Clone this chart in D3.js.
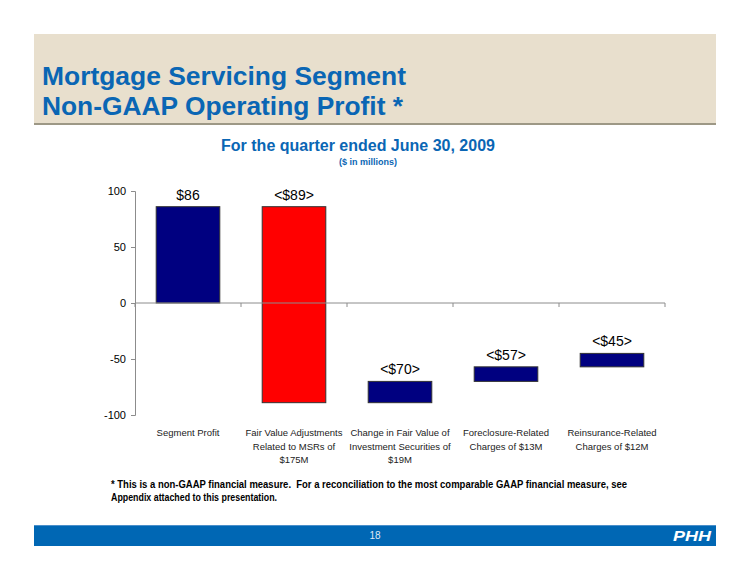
<!DOCTYPE html>
<html>
<head>
<meta charset="utf-8">
<script src="https://cdn.jsdelivr.net/npm/d3@7"></script>
<style>
html,body{margin:0;padding:0;background:#fff;}
svg{display:block;font-family:Arial,"Liberation Sans",sans-serif;}
</style>
</head>
<body>
<svg id="chart" width="750" height="579"></svg>
<script>
// ---- data ----
const categories = [
  ["Segment Profit"],
  ["Fair Value Adjustments", "Related to MSRs of", "$175M"],
  ["Change in Fair Value of", "Investment Securities of", "$19M"],
  ["Foreclosure-Related", "Charges of $13M"],
  ["Reinsurance-Related", "Charges of $12M"]
];
const changes = [86, -175, 19, 13, 12];
const valueLabels = ["$86", "<$89>", "<$70>", "<$57>", "<$45>"];
const barColors = ["#000080", "#ff0000", "#000080", "#000080", "#000080"];
const yTicks = [100, 50, 0, -50, -100];

const svg = d3.select("#chart");

// ---- header ----
svg.append("rect").attr("x", 34).attr("y", 34).attr("width", 682).attr("height", 90).attr("fill", "#e8dfcd");
svg.append("rect").attr("x", 34).attr("y", 123).attr("width", 682).attr("height", 2).attr("fill", "#9d9886");
svg.append("text").attr("x", 42).attr("y", 85).attr("fill", "#0a66b4")
  .attr("font-size", 25).attr("font-weight", "bold")
  .attr("textLength", 364).attr("lengthAdjust", "spacingAndGlyphs")
  .text("Mortgage Servicing Segment");
svg.append("text").attr("x", 42).attr("y", 115).attr("fill", "#0a66b4")
  .attr("font-size", 25).attr("font-weight", "bold")
  .attr("textLength", 361).attr("lengthAdjust", "spacingAndGlyphs")
  .text("Non-GAAP Operating Profit *");

// ---- subtitle ----
svg.append("text").attr("x", 358).attr("y", 151).attr("text-anchor", "middle")
  .attr("fill", "#0a66b4").attr("font-size", 16).attr("font-weight", "bold")
  .text("For the quarter ended June 30, 2009");
svg.append("text").attr("x", 368).attr("y", 165).attr("text-anchor", "middle")
  .attr("fill", "#0a66b4").attr("font-size", 9).attr("font-weight", "bold")
  .text("($ in millions)");

// ---- chart ----
const x = d3.scaleBand().domain(d3.range(categories.length)).range([135, 665])
  .paddingInner(0.4).paddingOuter(0.2);
const y = d3.scaleLinear().domain([-100, 100]).range([415, 191]);

// waterfall spans
let run = 0;
const bars = changes.map((c, i) => {
  const start = i === 0 ? 0 : run;
  const end = start + c;
  run = end;
  return {i, start, end, label: valueLabels[i], color: barColors[i]};
});

// y axis
const yAxis = d3.axisLeft(y).tickValues(yTicks).tickSize(4).tickPadding(5).tickFormat(d => String(d));
const gy = svg.append("g").attr("transform", "translate(135,0)").call(yAxis);
gy.select(".domain").attr("stroke", "#8c8c8c");
gy.selectAll(".tick line").attr("stroke", "#8c8c8c");
gy.selectAll(".tick text").attr("font-size", 11).attr("fill", "#000").attr("font-family", "Arial, 'Liberation Sans', sans-serif");

// bars
svg.selectAll("rect.bar").data(bars).enter().append("rect").attr("class", "bar")
  .attr("x", d => x(d.i))
  .attr("width", x.bandwidth())
  .attr("y", d => y(Math.max(d.start, d.end)))
  .attr("height", d => Math.abs(y(d.start) - y(d.end)))
  .attr("fill", d => d.color)
  .attr("stroke", "#333").attr("stroke-width", 1);

// x axis at zero
const xStep = x.step();
const gx = svg.append("g");
gx.append("line").attr("x1", 135).attr("x2", 665).attr("y1", y(0)).attr("y2", y(0)).attr("stroke", "#8c8c8c");
gx.selectAll("line.tk").data(d3.range(categories.length + 1)).enter().append("line").attr("class", "tk")
  .attr("x1", d => 135 + d * xStep).attr("x2", d => 135 + d * xStep)
  .attr("y1", y(0)).attr("y2", y(0) + 4).attr("stroke", "#8c8c8c");

// value labels
svg.selectAll("text.val").data(bars).enter().append("text").attr("class", "val")
  .attr("x", d => x(d.i) + x.bandwidth() / 2)
  .attr("y", d => y(Math.max(d.start, d.end)) - 7)
  .attr("text-anchor", "middle").attr("font-size", 14).attr("fill", "#000")
  .text(d => d.label);

// category labels
categories.forEach((lines, i) => {
  const t = svg.append("text").attr("text-anchor", "middle").attr("font-size", 9.5).attr("fill", "#222");
  lines.forEach((ln, k) => {
    t.append("tspan").attr("x", x(i) + x.bandwidth() / 2).attr("y", 436 + k * 13.5).text(ln);
  });
});

// footnote
const fn = svg.append("text").attr("font-size", 10).attr("font-weight", "bold").attr("fill", "#000")
  .style("white-space", "pre");
fn.append("tspan").attr("x", 111).attr("y", 488)
  .attr("textLength", 516).attr("lengthAdjust", "spacingAndGlyphs")
  .text("* This is a non-GAAP financial measure.  For a reconciliation to the most comparable GAAP financial measure, see");
fn.append("tspan").attr("x", 111).attr("y", 501)
  .attr("textLength", 166).attr("lengthAdjust", "spacingAndGlyphs")
  .text("Appendix attached to this presentation.");

// footer
svg.append("rect").attr("x", 34).attr("y", 525).attr("width", 682).attr("height", 21).attr("fill", "#0067b4");
svg.append("rect").attr("x", 34).attr("y", 525).attr("width", 682).attr("height", 1).attr("fill", "#4a8fca");
svg.append("text").attr("x", 375).attr("y", 539).attr("text-anchor", "middle").attr("fill", "#dfe9f5")
  .attr("font-size", 10).text("18");
svg.append("text").attr("x", 673).attr("y", 541).attr("fill", "#fff")
  .attr("font-size", 14).attr("font-weight", "bold").attr("font-style", "italic")
  .attr("textLength", 38).attr("lengthAdjust", "spacingAndGlyphs").text("PHH");
</script>
</body>
</html>
